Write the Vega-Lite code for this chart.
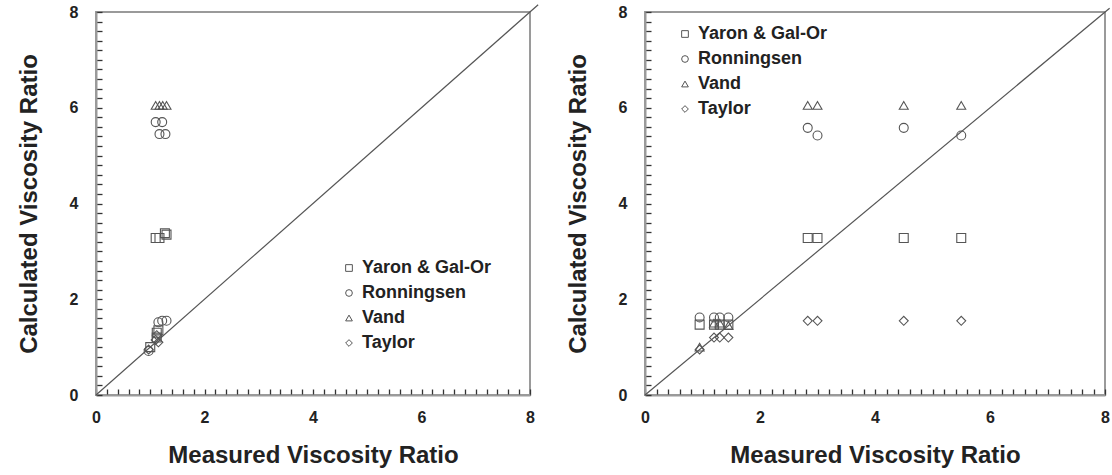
{
  "$schema": "https://vega.github.io/schema/vega-lite/v6.json",
  "background": "white",
  "padding": {"left": 16, "top": 1, "right": 0, "bottom": 0},
  "spacing": 23,
  "config": {
    "view": {"stroke": "#9a9a9a", "strokeWidth": 2},
    "font": "Liberation Sans",
    "axis": {
      "grid": false,
      "domainColor": "#9a9a9a",
      "domainWidth": 2,
      "tickColor": "#333",
      "tickWidth": 1.3,
      "labelFont": "Liberation Sans",
      "labelFontWeight": "bold",
      "labelFontSize": 16,
      "labelColor": "#222",
      "labelFlush": false,
      "labelOverlap": false,
      "titleFont": "Liberation Sans",
      "titleFontWeight": "bold",
      "titleFontSize": 24,
      "titleColor": "#222"
    },
    "legend": {
      "labelFont": "Liberation Sans",
      "labelFontWeight": "bold",
      "labelFontSize": 18,
      "labelColor": "#222",
      "symbolSize": 45,
      "symbolStrokeColor": "#555",
      "symbolStrokeWidth": 1,
      "symbolFillColor": "transparent",
      "rowPadding": 7,
      "title": null
    }
  },
  "datasets": {
    "pts": [
      {"panel": "L", "model": "Yaron & Gal-Or", "x": 1.1, "y": 3.28},
      {"panel": "L", "model": "Yaron & Gal-Or", "x": 1.17, "y": 3.28},
      {"panel": "L", "model": "Yaron & Gal-Or", "x": 1.27, "y": 3.38},
      {"panel": "L", "model": "Yaron & Gal-Or", "x": 1.3, "y": 3.35},
      {"panel": "L", "model": "Yaron & Gal-Or", "x": 1.0, "y": 1.0},
      {"panel": "L", "model": "Yaron & Gal-Or", "x": 1.12, "y": 1.3},
      {"panel": "L", "model": "Yaron & Gal-Or", "x": 1.12, "y": 1.2},
      {"panel": "L", "model": "Yaron & Gal-Or", "x": 1.15, "y": 1.35},
      {"panel": "L", "model": "Ronningsen", "x": 1.1, "y": 5.7},
      {"panel": "L", "model": "Ronningsen", "x": 1.22, "y": 5.7},
      {"panel": "L", "model": "Ronningsen", "x": 1.17, "y": 5.45},
      {"panel": "L", "model": "Ronningsen", "x": 1.28, "y": 5.45},
      {"panel": "L", "model": "Ronningsen", "x": 1.15, "y": 1.52},
      {"panel": "L", "model": "Ronningsen", "x": 1.22, "y": 1.55},
      {"panel": "L", "model": "Ronningsen", "x": 1.3, "y": 1.55},
      {"panel": "L", "model": "Ronningsen", "x": 0.97, "y": 0.92},
      {"panel": "L", "model": "Vand", "x": 1.1, "y": 6.05},
      {"panel": "L", "model": "Vand", "x": 1.17, "y": 6.05},
      {"panel": "L", "model": "Vand", "x": 1.23, "y": 6.05},
      {"panel": "L", "model": "Vand", "x": 1.3, "y": 6.05},
      {"panel": "L", "model": "Taylor", "x": 1.1, "y": 1.15},
      {"panel": "L", "model": "Taylor", "x": 1.12, "y": 1.25},
      {"panel": "L", "model": "Taylor", "x": 1.15, "y": 1.1},
      {"panel": "L", "model": "Taylor", "x": 0.97, "y": 0.95},
      {"panel": "R", "model": "Yaron & Gal-Or", "x": 2.83, "y": 3.28},
      {"panel": "R", "model": "Yaron & Gal-Or", "x": 3.0, "y": 3.28},
      {"panel": "R", "model": "Yaron & Gal-Or", "x": 4.5, "y": 3.28},
      {"panel": "R", "model": "Yaron & Gal-Or", "x": 5.5, "y": 3.28},
      {"panel": "R", "model": "Yaron & Gal-Or", "x": 0.95, "y": 1.47},
      {"panel": "R", "model": "Yaron & Gal-Or", "x": 1.2, "y": 1.47},
      {"panel": "R", "model": "Yaron & Gal-Or", "x": 1.3, "y": 1.47},
      {"panel": "R", "model": "Yaron & Gal-Or", "x": 1.45, "y": 1.47},
      {"panel": "R", "model": "Ronningsen", "x": 2.83, "y": 5.58},
      {"panel": "R", "model": "Ronningsen", "x": 3.0, "y": 5.42},
      {"panel": "R", "model": "Ronningsen", "x": 4.5, "y": 5.58},
      {"panel": "R", "model": "Ronningsen", "x": 5.5, "y": 5.42},
      {"panel": "R", "model": "Ronningsen", "x": 0.95, "y": 1.62},
      {"panel": "R", "model": "Ronningsen", "x": 1.2, "y": 1.62},
      {"panel": "R", "model": "Ronningsen", "x": 1.3, "y": 1.62},
      {"panel": "R", "model": "Ronningsen", "x": 1.45, "y": 1.62},
      {"panel": "R", "model": "Vand", "x": 2.83, "y": 6.05},
      {"panel": "R", "model": "Vand", "x": 3.0, "y": 6.05},
      {"panel": "R", "model": "Vand", "x": 4.5, "y": 6.05},
      {"panel": "R", "model": "Vand", "x": 5.5, "y": 6.05},
      {"panel": "R", "model": "Vand", "x": 0.95, "y": 1.0},
      {"panel": "R", "model": "Vand", "x": 1.2, "y": 1.5},
      {"panel": "R", "model": "Vand", "x": 1.3, "y": 1.5},
      {"panel": "R", "model": "Vand", "x": 1.45, "y": 1.45},
      {"panel": "R", "model": "Taylor", "x": 2.83, "y": 1.55},
      {"panel": "R", "model": "Taylor", "x": 3.0, "y": 1.55},
      {"panel": "R", "model": "Taylor", "x": 4.5, "y": 1.55},
      {"panel": "R", "model": "Taylor", "x": 5.5, "y": 1.55},
      {"panel": "R", "model": "Taylor", "x": 0.95, "y": 0.95},
      {"panel": "R", "model": "Taylor", "x": 1.2, "y": 1.2},
      {"panel": "R", "model": "Taylor", "x": 1.3, "y": 1.2},
      {"panel": "R", "model": "Taylor", "x": 1.45, "y": 1.2}
    ]
  },
  "resolve": {"scale": {"shape": "independent"}, "legend": {"shape": "independent"}},
  "hconcat": [
    {
      "width": 434,
      "height": 383,
      "resolve": {"axis": {"x": "independent", "y": "independent"}},
      "layer": [
        {
          "data": {"values": [{"v": 0}, {"v": 8.15}]},
          "mark": {"type": "line", "color": "#555", "strokeWidth": 1.2, "clip": false},
          "encoding": {
            "x": {"field": "v", "type": "quantitative", "scale": {"domain": [0, 8], "nice": false},
              "axis": {"orient": "bottom", "title": null, "labels": false, "domain": false, "tickSize": -6,
                "values": [0,0.2,0.4,0.6,0.8,1,1.2,1.4,1.6,1.8,2,2.2,2.4,2.6,2.8,3,3.2,3.4,3.6,3.8,4,4.2,4.4,4.6,4.8,5,5.2,5.4,5.6,5.8,6,6.2,6.4,6.6,6.8,7,7.2,7.4,7.6,7.8,8]}},
            "y": {"field": "v", "type": "quantitative", "scale": {"domain": [0, 8], "nice": false},
              "axis": {"orient": "left", "title": null, "labels": false, "domain": false, "tickSize": -6,
                "values": [0,0.2,0.4,0.6,0.8,1,1.2,1.4,1.6,1.8,2,2.2,2.4,2.6,2.8,3,3.2,3.4,3.6,3.8,4,4.2,4.4,4.6,4.8,5,5.2,5.4,5.6,5.8,6,6.2,6.4,6.6,6.8,7,7.2,7.4,7.6,7.8,8]}}
          }
        },
        {
          "data": {"name": "pts"},
          "transform": [{"filter": "datum.panel === 'L'"}],
          "mark": {"type": "point", "filled": false, "stroke": "#555", "strokeWidth": 1.1, "size": 80, "opacity": 1},
          "encoding": {
            "x": {
              "field": "x", "type": "quantitative",
              "scale": {"domain": [0, 8], "nice": false},
              "axis": {"orient": "bottom", "title": "Measured Viscosity Ratio", "values": [0, 2, 4, 6, 8], "format": "d", "ticks": false, "labelPadding": 14, "titlePadding": 18}
            },
            "y": {
              "field": "y", "type": "quantitative",
              "scale": {"domain": [0, 8], "nice": false},
              "axis": {"orient": "left", "title": "Calculated Viscosity Ratio", "values": [0, 2, 4, 6, 8], "format": "d", "ticks": false, "labelPadding": 18, "titlePadding": 28}
            },
            "shape": {
              "field": "model", "type": "nominal",
              "scale": {"domain": ["Yaron & Gal-Or", "Ronningsen", "Vand", "Taylor"], "range": ["square", "circle", "triangle-up", "diamond"]},
              "legend": {"orient": "none", "legendX": 244, "legendY": 247}
            }
          }
        }
      ]
    },
    {
      "width": 460,
      "height": 383,
      "resolve": {"axis": {"x": "independent", "y": "independent"}},
      "layer": [
        {
          "data": {"values": [{"v": 0}, {"v": 8.08}]},
          "mark": {"type": "line", "color": "#555", "strokeWidth": 1.2, "clip": false},
          "encoding": {
            "x": {"field": "v", "type": "quantitative", "scale": {"domain": [0, 8], "nice": false},
              "axis": {"orient": "bottom", "title": null, "labels": false, "domain": false, "tickSize": -6,
                "values": [0,0.2,0.4,0.6,0.8,1,1.2,1.4,1.6,1.8,2,2.2,2.4,2.6,2.8,3,3.2,3.4,3.6,3.8,4,4.2,4.4,4.6,4.8,5,5.2,5.4,5.6,5.8,6,6.2,6.4,6.6,6.8,7,7.2,7.4,7.6,7.8,8]}},
            "y": {"field": "v", "type": "quantitative", "scale": {"domain": [0, 8], "nice": false},
              "axis": {"orient": "left", "title": null, "labels": false, "domain": false, "tickSize": -6,
                "values": [0,0.2,0.4,0.6,0.8,1,1.2,1.4,1.6,1.8,2,2.2,2.4,2.6,2.8,3,3.2,3.4,3.6,3.8,4,4.2,4.4,4.6,4.8,5,5.2,5.4,5.6,5.8,6,6.2,6.4,6.6,6.8,7,7.2,7.4,7.6,7.8,8]}}
          }
        },
        {
          "data": {"name": "pts"},
          "transform": [{"filter": "datum.panel === 'R'"}],
          "mark": {"type": "point", "filled": false, "stroke": "#555", "strokeWidth": 1.1, "size": 80, "opacity": 1},
          "encoding": {
            "x": {
              "field": "x", "type": "quantitative",
              "scale": {"domain": [0, 8], "nice": false},
              "axis": {"orient": "bottom", "title": "Measured Viscosity Ratio", "values": [0, 2, 4, 6, 8], "format": "d", "ticks": false, "labelPadding": 14, "titlePadding": 18}
            },
            "y": {
              "field": "y", "type": "quantitative",
              "scale": {"domain": [0, 8], "nice": false},
              "axis": {"orient": "left", "title": "Calculated Viscosity Ratio", "values": [0, 2, 4, 6, 8], "format": "d", "ticks": false, "labelPadding": 18, "titlePadding": 28}
            },
            "shape": {
              "field": "model", "type": "nominal",
              "scale": {"domain": ["Yaron & Gal-Or", "Ronningsen", "Vand", "Taylor"], "range": ["square", "circle", "triangle-up", "diamond"]},
              "legend": {"orient": "none", "legendX": 31, "legendY": 13}
            }
          }
        }
      ]
    }
  ]
}
